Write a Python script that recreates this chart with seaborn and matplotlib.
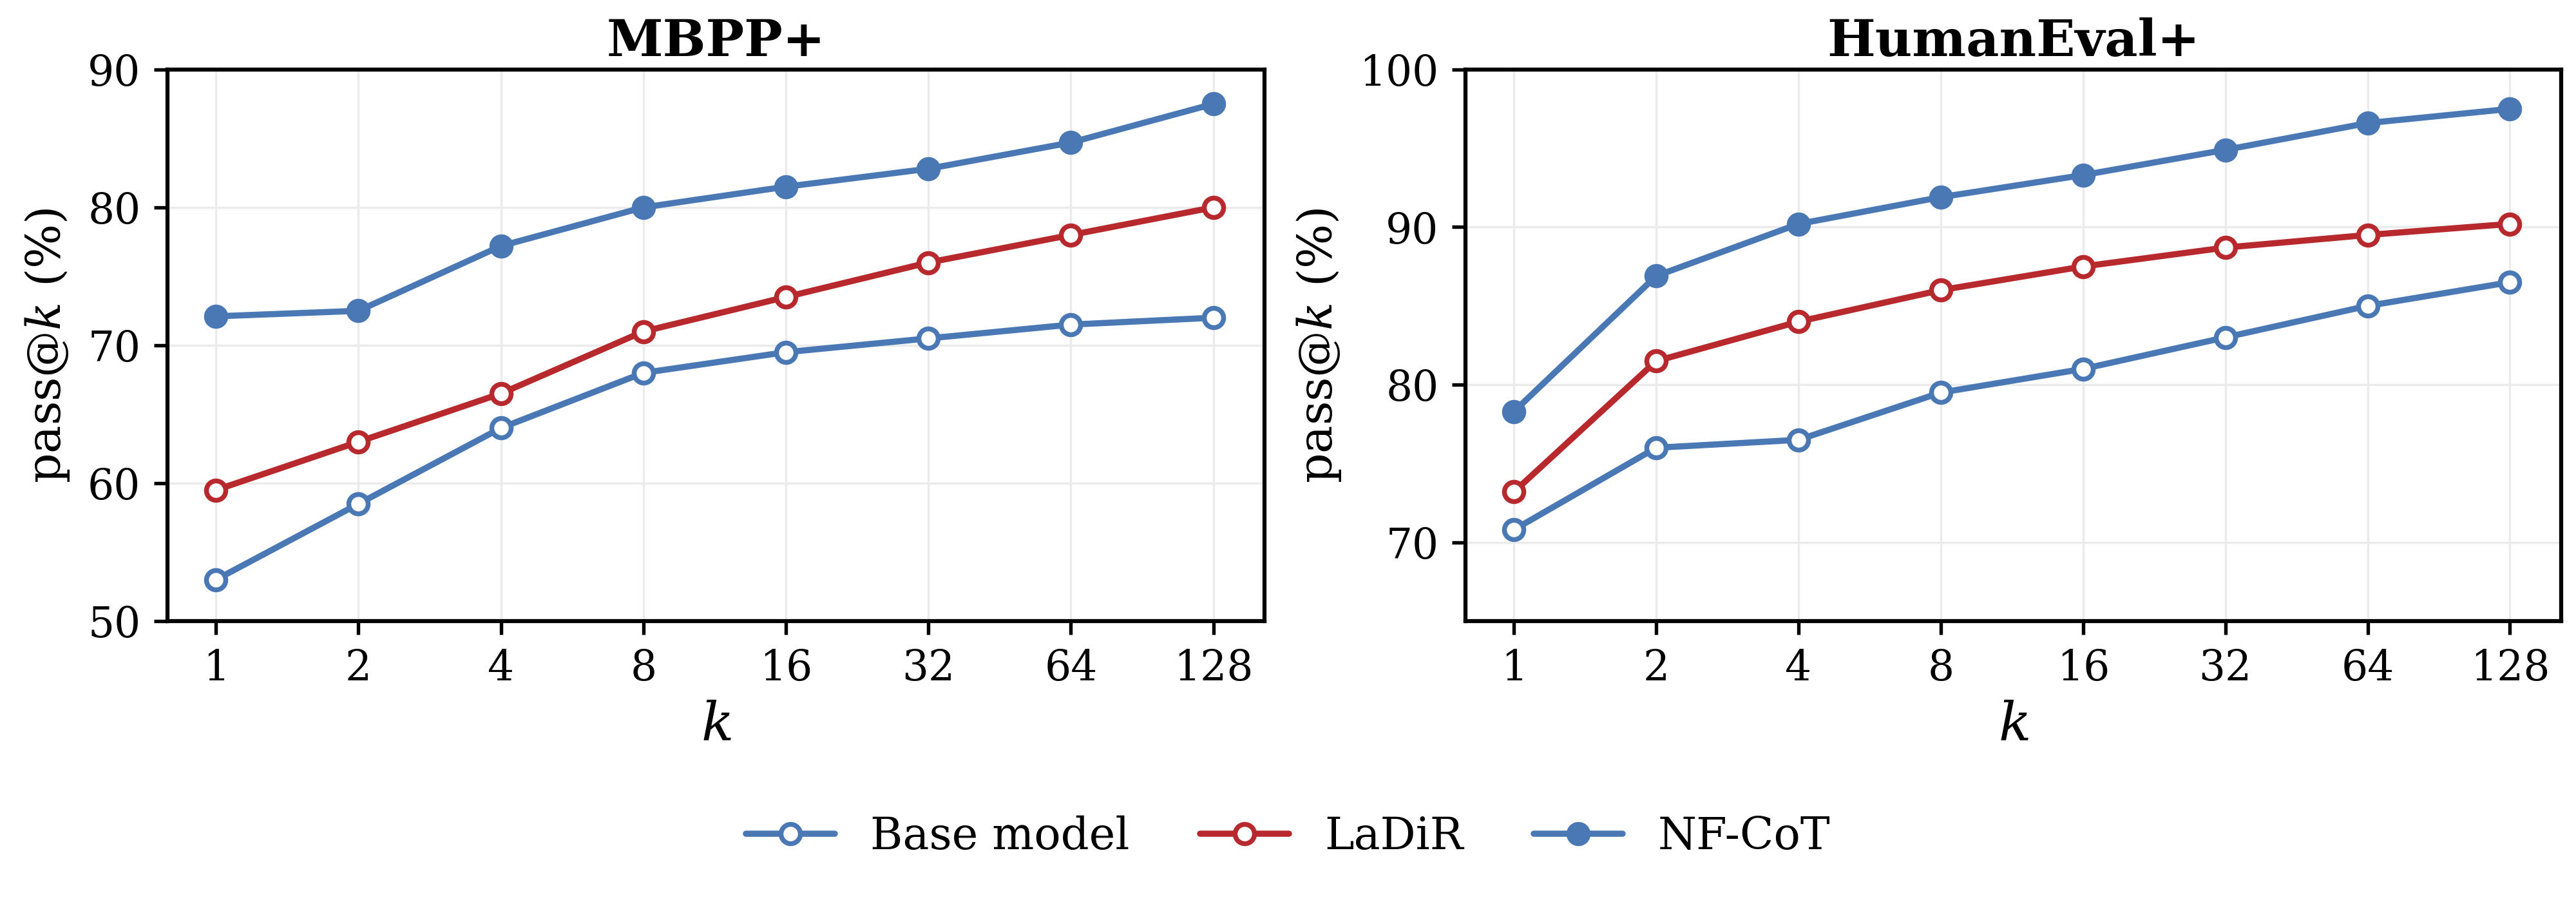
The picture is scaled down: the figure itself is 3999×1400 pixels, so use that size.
import pandas as pd
import matplotlib.pyplot as plt
import seaborn as sns

# data
k_values = [1, 2, 4, 8, 16, 32, 64, 128]
k_labels = ["1", "2", "4", "8", "16", "32", "64", "128"]

mbpp_base = [53.0, 58.5, 64.0, 68.0, 69.5, 70.5, 71.5, 72.0]
mbpp_ladir = [59.5, 63.0, 66.5, 71.0, 73.5, 76.0, 78.0, 80.0]
mbpp_nfcot = [72.1, 72.5, 77.2, 80.0, 81.5, 82.8, 84.7, 87.5]

he_base = [70.8, 76.0, 76.5, 79.5, 81.0, 83.0, 85.0, 86.5]
he_ladir = [73.2, 81.5, 84.0, 86.0, 87.5, 88.7, 89.5, 90.2]
he_nfcot = [78.3, 86.9, 90.2, 91.9, 93.3, 94.9, 96.6, 97.5]

methods = ["Base model", "LaDiR", "NF-CoT"]

sns.set_theme(style="whitegrid")
plt.rcParams['font.family'] = ['DejaVu Serif']
plt.rcParams['mathtext.fontset'] = 'dejavuserif'
plt.rcParams['text.color'] = 'black'
plt.rcParams['axes.labelcolor'] = 'black'
plt.rcParams['xtick.color'] = 'black'
plt.rcParams['ytick.color'] = 'black'

BLUE = "#4a78b5"
RED = "#b8292d"
styles = {
    "Base model": dict(color=BLUE, mfc="white"),
    "LaDiR": dict(color=RED, mfc="white"),
    "NF-CoT": dict(color=BLUE, mfc=BLUE),
}

panels = [
    ("MBPP+", [mbpp_base, mbpp_ladir, mbpp_nfcot], (50, 90), [50, 60, 70, 80, 90]),
    ("HumanEval+", [he_base, he_ladir, he_nfcot], (65, 100), [70, 80, 90, 100]),
]

fig, axes = plt.subplots(1, 2, figsize=(13.333, 4.667), dpi=300)
axes[0].set_position([0.0650, 0.3114, 0.4258, 0.6115])
axes[1].set_position([0.5688, 0.3114, 0.4252, 0.6115])

for ax, (title, series, ylim, yticks) in zip(axes, panels):
    for name, vals in zip(methods, series):
        df = pd.DataFrame({"k": k_values, "pass": vals})
        st = styles[name]
        sns.lineplot(data=df, x="k", y="pass", ax=ax, color=st["color"],
                     linewidth=2.3, marker="o", markersize=7.2,
                     markerfacecolor=st["mfc"], markeredgecolor=st["color"],
                     markeredgewidth=1.8, label=name, legend=False)
    ax.set_xscale("log", base=2)
    ax.set_xticks(k_values)
    ax.set_xticklabels(k_labels)
    ax.minorticks_off()
    ax.set_xlim(2 ** -0.34, 2 ** 7.36)
    ax.set_ylim(*ylim)
    ax.set_yticks(yticks)
    ax.set_title(title, fontsize=19, fontweight="bold", pad=5)
    ax.set_xlabel("$k$", fontsize=20, labelpad=4)
    ax.set_ylabel("pass@$k$ (%)", fontsize=17.5, labelpad=6)
    ax.tick_params(axis="both", labelsize=15.5, length=5, width=1.3,
                   bottom=True, left=True, pad=5)
    ax.grid(True, color="#ebebeb", linewidth=0.8)
    for sp in ax.spines.values():
        sp.set_color("black")
        sp.set_linewidth(1.5)

handles, labels = axes[0].get_legend_handles_labels()
fig.legend(handles, labels, loc="center", bbox_to_anchor=(0.5, 0.072),
           ncol=3, frameon=False, fontsize=16.5, handlelength=2.0,
           handletextpad=0.8, columnspacing=1.6)

plt.savefig("out.png", dpi=300)
